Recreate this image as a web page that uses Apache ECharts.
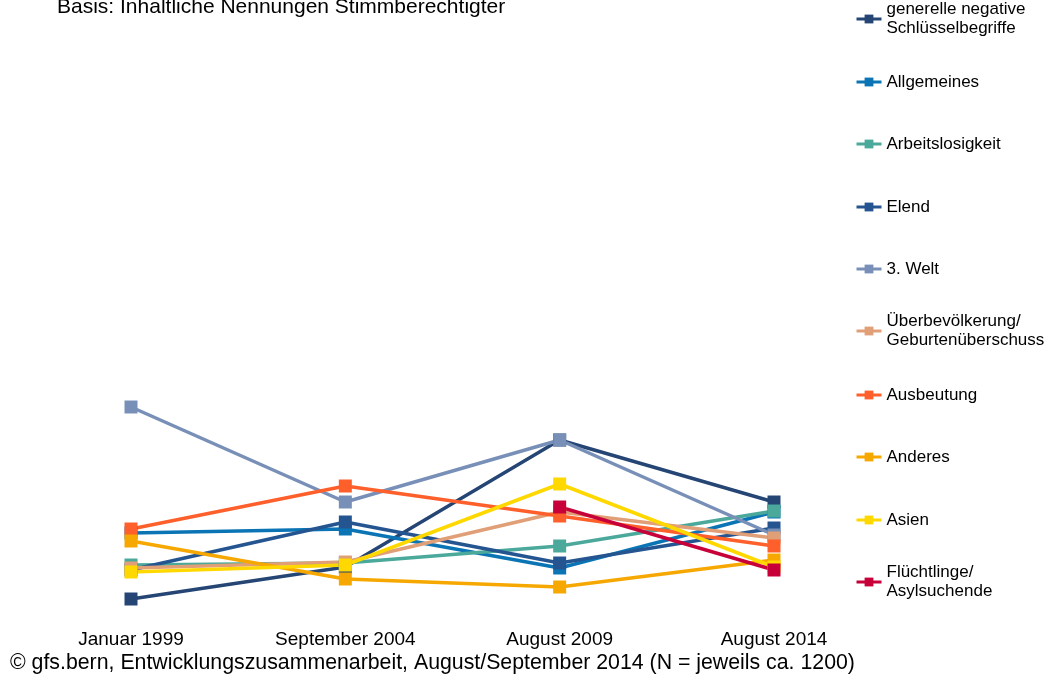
<!DOCTYPE html>
<html>
<head>
<meta charset="utf-8">
<title>Entwicklungszusammenarbeit</title>
<script src="https://cdn.jsdelivr.net/npm/echarts@6/dist/echarts.min.js"></script>
<style>
	html, body { margin: 0; padding: 0; background: #fff; }
	#chart { width: 1046px; height: 675px; }
</style>
</head>
<body>
<div id="chart"></div>
<script>
// Kategorien (Befragungswellen)
var waves = ['Januar 1999', 'September 2004', 'August 2009', 'August 2014'];

// Werte der Reihen (aus der Grafik geschätzt, keine Achse sichtbar)
var genNegativ      = [2.1, 5.3, 18.0, 11.8];
var allgemeines     = [8.7, 9.1, 5.2, 10.8];
var arbeitslosigkeit = [5.5, 5.7, 7.4, 10.9];
var elend           = [5.0, 9.8, 5.7, 9.2];
var dritteWelt      = [21.3, 11.8, 18.0, 8.5];
var ueberbev        = [5.2, 5.8, 10.8, 8.2];
var ausbeutung      = [9.1, 13.4, 10.4, 7.4];
var anderes         = [7.9, 4.1, 3.3, 6.0];
var asien           = [4.8, 5.5, 13.6, 5.3];
var fluechtlinge    = [null, null, 11.3, 5.0];

var names = ['generelle negative Schlüsselbegriffe', 'Allgemeines', 'Arbeitslosigkeit', 'Elend', '3. Welt',
	'Überbevölkerung/ Geburtenüberschuss', 'Ausbeutung', 'Anderes', 'Asien', 'Flüchtlinge/ Asylsuchende'];
var legendText = ['generelle negative\nSchlüsselbegriffe', 'Allgemeines', 'Arbeitslosigkeit', 'Elend', '3. Welt',
	'Überbevölkerung/\nGeburtenüberschuss', 'Ausbeutung', 'Anderes', 'Asien', 'Flüchtlinge/\nAsylsuchende'];
var values = [genNegativ, allgemeines, arbeitslosigkeit, elend, dritteWelt, ueberbev, ausbeutung, anderes, asien, fluechtlinge];
var colors = ['#254574', '#0a74b5', '#4aa99b', '#245591', '#7890b8', '#e09f76', '#ff5f2a', '#f6a800', '#ffd800', '#c8003a'];

var FONT = 'Liberation Sans, Arial, sans-serif';
var chart = echarts.init(document.getElementById('chart'));

// je eine Legende pro Eintrag, damit der Abstand gleich bleibt
var legendY = [19, 82, 144, 207, 269, 331, 395, 457, 520, 582];
var LH = 19;
var legends = names.map(function(n, i) {
	var multi = legendText[i].indexOf('\n') >= 0;
	return {
		data: [n],
		left: 855,
		top: legendY[i] - (multi ? LH * 1.5 : LH / 2),
		padding: 0,
		itemWidth: 25,
		itemHeight: 11,
		selectedMode: false,
		lineStyle: { width: 3 },
		formatter: function() { return legendText[i]; },
		textStyle: {
			fontFamily: FONT,
			fontSize: 17,
			lineHeight: LH,
			color: '#000',
			padding: multi ? [LH, 0, 0, 0] : 0
		}
	};
});

var series = names.map(function(n, i) {
	return {
		name: n,
		type: 'line',
		data: values[i],
		symbol: 'rect',
		symbolSize: 13,
		connectNulls: false,
		itemStyle: { color: colors[i] },
		lineStyle: { color: colors[i], width: 3.5 },
		emphasis: { disabled: true }
	};
});

var option = {
	animation: false,
	backgroundColor: '#fff',
	title: [{
		text: 'Basis: Inhaltliche Nennungen Stimmberechtigter',
		left: 57,
		top: -3,
		padding: 0,
		textStyle: { fontFamily: FONT, fontSize: 21, fontWeight: 'normal', color: '#000' }
	}, {
		text: '© gfs.bern, Entwicklungszusammenarbeit, August/September 2014 (N = jeweils ca. 1200)',
		left: 10,
		top: 653,
		padding: 0,
		textStyle: { fontFamily: FONT, fontSize: 21.3, fontWeight: 'normal', color: '#000' }
	}],
	legend: legends,
	grid: { left: 131, right: 272, top: 20, bottom: 55 },
	xAxis: {
		type: 'category',
		data: waves,
		boundaryGap: false,
		axisLine: { show: false },
		axisTick: { show: false },
		splitLine: { show: false },
		axisLabel: { fontFamily: FONT, fontSize: 19, color: '#000', margin: 10, interval: 0 }
	},
	yAxis: {
		type: 'value',
		min: 0,
		max: 60,
		show: false
	},
	series: series
};

chart.setOption(option);
</script>
</body>
</html>
